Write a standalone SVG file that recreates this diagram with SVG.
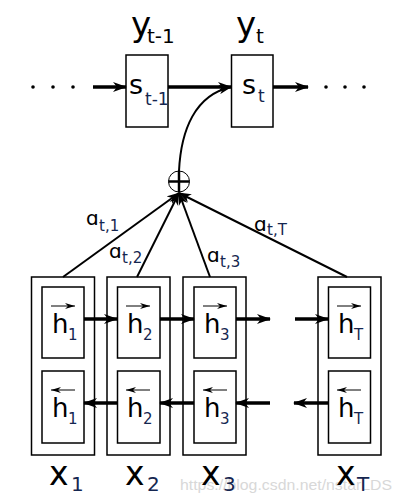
<svg xmlns="http://www.w3.org/2000/svg" width="401" height="503" viewBox="0 0 401 503">
<style>
.box{fill:#fff;stroke:#000;stroke-width:1.5}
.t{font-family:"DejaVu Sans",sans-serif;fill:#000}
.sub{font-family:"DejaVu Sans",sans-serif;fill:#152650}
.thick{stroke:#000;stroke-width:3.5;fill:none}
.thin{stroke:#000;stroke-width:2;fill:none}
.ov{stroke:#000;stroke-width:1;fill:none}
.wm{font-family:"Liberation Sans",sans-serif;fill:#d8d8d8}
</style>
<defs>
<marker id="ah" markerUnits="userSpaceOnUse" viewBox="0 0 14 10" refX="13" refY="5" markerWidth="14" markerHeight="10" orient="auto">
<path d="M0,0 L14,5 L0,10 L4,5 z" fill="#000"/>
</marker>
<marker id="ah2" markerUnits="userSpaceOnUse" viewBox="0 0 14 10" refX="13" refY="5" markerWidth="13" markerHeight="10" orient="auto">
<path d="M0,0 L14,5 L0,10 L4,5 z" fill="#000"/>
</marker>
<marker id="ahs" markerUnits="userSpaceOnUse" viewBox="0 0 10 6" refX="10" refY="3" markerWidth="10" markerHeight="6" orient="auto">
<path d="M0,0 L10,3 L0,6 L3,3 z" fill="#000"/>
</marker>
</defs>
<text class="wm" x="180" y="490" font-size="15" textLength="212" lengthAdjust="spacingAndGlyphs">https://blog.csdn.net/nstarLDS</text>
<g id="dots-left" fill="#000"><circle cx="33" cy="87" r="1.8"/><circle cx="53" cy="87" r="1.8"/><circle cx="73" cy="87" r="1.8"/></g>
<g id="dots-right" fill="#000"><circle cx="326" cy="87" r="1.8"/><circle cx="345" cy="87" r="1.8"/><circle cx="364" cy="87" r="1.8"/></g>
<g id="s_t-1">
<rect class="box" x="126" y="55" width="42" height="72"/>
<text class="t" x="129" y="94" font-size="27">s</text>
<text class="sub" x="145" y="105" font-size="17">t-1</text>
<text class="t" x="131" y="36" font-size="34">y</text>
<text class="t" x="147" y="43" font-size="20">t-1</text>
</g>
<g id="s_t">
<rect class="box" x="231.5" y="55" width="41.5" height="72"/>
<text class="t" x="242" y="94" font-size="27">s</text>
<text class="sub" x="258" y="102" font-size="17">t</text>
<text class="t" x="236" y="36" font-size="34">y</text>
<text class="t" x="256" y="43" font-size="20">t</text>
</g>
<g id="sum">
<circle cx="179" cy="181.5" r="10.5" fill="#fff" stroke="#000" stroke-width="1"/>
<line x1="168.5" y1="181.5" x2="189.5" y2="181.5" stroke="#000" stroke-width="2.5"/>
<line x1="179" y1="171" x2="179" y2="192" stroke="#000" stroke-width="2.5"/>
</g>
<g id="col1">
<rect class="box" x="31.5" y="277" width="63" height="178"/>
<rect class="box" x="42" y="287" width="42" height="71"/>
<rect class="box" x="42" y="371" width="42" height="72"/>
<text class="t" x="52" y="333" font-size="26">h</text><text class="sub" x="68" y="340" font-size="15">1</text>
<line class="ov" x1="51" y1="306" x2="75" y2="306" marker-end="url(#ahs)"/>
<text class="t" x="52" y="417" font-size="26">h</text><text class="sub" x="68" y="424" font-size="15">1</text>
<line class="ov" x1="75" y1="390" x2="51" y2="390" marker-end="url(#ahs)"/>
<text class="t" x="49" y="485" font-size="33">x</text><text class="sub" x="71" y="491" font-size="20">1</text>
</g>
<g id="col2">
<rect class="box" x="107" y="277" width="63" height="178"/>
<rect class="box" x="117.5" y="287" width="42.5" height="71"/>
<rect class="box" x="117.5" y="371" width="42.5" height="72"/>
<text class="t" x="127" y="333" font-size="26">h</text><text class="sub" x="143" y="340" font-size="15">2</text>
<line class="ov" x1="126" y1="306" x2="150" y2="306" marker-end="url(#ahs)"/>
<text class="t" x="127" y="417" font-size="26">h</text><text class="sub" x="143" y="424" font-size="15">2</text>
<line class="ov" x1="150" y1="390" x2="126" y2="390" marker-end="url(#ahs)"/>
<text class="t" x="125" y="485" font-size="33">x</text><text class="sub" x="147" y="491" font-size="20">2</text>
</g>
<g id="col3">
<rect class="box" x="183" y="277" width="63" height="178"/>
<rect class="box" x="194" y="287" width="42" height="71"/>
<rect class="box" x="194" y="371" width="42" height="72"/>
<text class="t" x="204" y="333" font-size="26">h</text><text class="sub" x="220" y="340" font-size="15">3</text>
<line class="ov" x1="203" y1="306" x2="227" y2="306" marker-end="url(#ahs)"/>
<text class="t" x="204" y="417" font-size="26">h</text><text class="sub" x="220" y="424" font-size="15">3</text>
<line class="ov" x1="227" y1="390" x2="203" y2="390" marker-end="url(#ahs)"/>
<text class="t" x="201" y="485" font-size="33">x</text><text class="sub" x="223" y="491" font-size="20">3</text>
</g>
<g id="colT">
<rect class="box" x="318" y="277" width="63" height="178"/>
<rect class="box" x="328.5" y="287" width="42" height="71"/>
<rect class="box" x="328.5" y="371" width="42" height="72"/>
<text class="t" x="338" y="333" font-size="26">h</text><text class="sub" x="354" y="340" font-size="15">T</text>
<line class="ov" x1="337" y1="306" x2="361" y2="306" marker-end="url(#ahs)"/>
<text class="t" x="338" y="417" font-size="26">h</text><text class="sub" x="354" y="424" font-size="15">T</text>
<line class="ov" x1="361" y1="390" x2="337" y2="390" marker-end="url(#ahs)"/>
<text class="t" x="336" y="485" font-size="33">x</text><text class="sub" x="357" y="491" font-size="20">T</text>
</g>
<g id="connectors">
<line class="thick" x1="93" y1="87" x2="126" y2="87" marker-end="url(#ah)"/>
<line class="thick" x1="168" y1="87" x2="231" y2="87" marker-end="url(#ah)"/>
<line class="thick" x1="273" y1="87" x2="308" y2="87" marker-end="url(#ah)"/>
<path class="thin" d="M179,171 C181,130 195,95 231,87" marker-end="url(#ah2)"/>
<line class="thin" x1="63" y1="277" x2="179" y2="193" marker-end="url(#ah2)"/>
<line class="thin" x1="137" y1="277" x2="179" y2="193" marker-end="url(#ah2)"/>
<line class="thin" x1="210" y1="277" x2="179" y2="193" marker-end="url(#ah2)"/>
<line class="thin" x1="347" y1="277" x2="179" y2="193" marker-end="url(#ah2)"/>
<line class="thick" x1="84" y1="319" x2="117" y2="319" marker-end="url(#ah)"/>
<line class="thick" x1="160" y1="319" x2="194" y2="319" marker-end="url(#ah)"/>
<line class="thick" x1="236" y1="319" x2="270" y2="319" marker-end="url(#ah)"/>
<line class="thick" x1="295" y1="319" x2="328" y2="319" marker-end="url(#ah)"/>
<line class="thick" x1="117" y1="403" x2="84" y2="403" marker-end="url(#ah)"/>
<line class="thick" x1="194" y1="403" x2="160" y2="403" marker-end="url(#ah)"/>
<line class="thick" x1="270" y1="403" x2="236" y2="403" marker-end="url(#ah)"/>
<line class="thick" x1="328" y1="403" x2="294" y2="403" marker-end="url(#ah)"/>
</g>
<g id="labels">
<text class="t" x="86" y="225" font-size="20">ɑ</text><text class="sub" x="99" y="231" font-size="15">t,1</text>
<text class="t" x="109" y="258" font-size="20">ɑ</text><text class="sub" x="122" y="263" font-size="15">t,2</text>
<text class="t" x="207" y="262" font-size="20">ɑ</text><text class="sub" x="220" y="267" font-size="15">t,3</text>
<text class="t" x="254" y="231" font-size="20">ɑ</text><text class="sub" x="267" y="235" font-size="15">t,T</text>
</g>
</svg>
